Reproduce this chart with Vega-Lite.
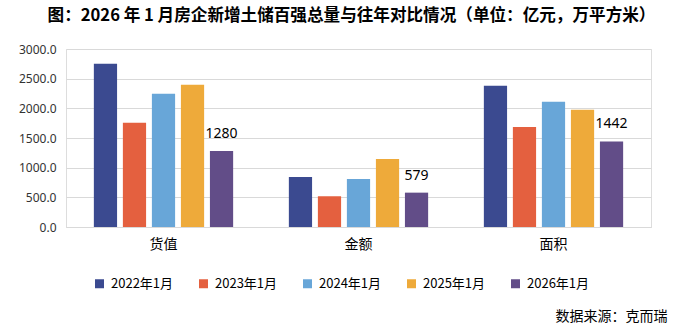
{
  "$schema": "https://vega.github.io/schema/vega-lite/v6.json",
  "width": 585,
  "height": 178,
  "autosize": {"type": "none"},
  "padding": {"left": 66, "top": 49, "right": 25, "bottom": 108},
  "background": "white",
  "title": {
    "text": "图：2026 年 1 月房企新增土储百强总量与往年对比情况（单位：亿元，万平方米）",
    "font": "Noto Sans CJK SC",
    "fontSize": 16.6,
    "fontWeight": "bold",
    "color": "black",
    "anchor": "middle",
    "frame": "group",
    "dx": -7,
    "offset": 18
  },
  "data": {
    "values": [
      {"cat": "货值", "year": "2022年1月", "value": 2753},
      {"cat": "货值", "year": "2023年1月", "value": 1755},
      {"cat": "货值", "year": "2024年1月", "value": 2245},
      {"cat": "货值", "year": "2025年1月", "value": 2397},
      {"cat": "货值", "year": "2026年1月", "value": 1280},
      {"cat": "金额", "year": "2022年1月", "value": 841},
      {"cat": "金额", "year": "2023年1月", "value": 519},
      {"cat": "金额", "year": "2024年1月", "value": 807},
      {"cat": "金额", "year": "2025年1月", "value": 1145},
      {"cat": "金额", "year": "2026年1月", "value": 579},
      {"cat": "面积", "year": "2022年1月", "value": 2381},
      {"cat": "面积", "year": "2023年1月", "value": 1687},
      {"cat": "面积", "year": "2024年1月", "value": 2110},
      {"cat": "面积", "year": "2025年1月", "value": 1975},
      {"cat": "面积", "year": "2026年1月", "value": 1442}
    ]
  },
  "encoding": {
    "x": {
      "field": "cat",
      "type": "nominal",
      "sort": ["货值", "金额", "面积"],
      "scale": {"paddingInner": 0, "paddingOuter": 0},
      "axis": {
        "labelAngle": 0,
        "ticks": false,
        "grid": false,
        "domainColor": "#d9d9d9",
        "labelFont": "Noto Sans CJK SC",
        "labelFontSize": 14,
        "labelColor": "black",
        "labelPadding": 10,
        "title": "数据来源：克而瑞",
        "titleFont": "Noto Sans CJK SC",
        "titleFontSize": 14,
        "titleFontWeight": "normal",
        "titleColor": "black",
        "titleAlign": "right",
        "titleBaseline": "middle",
        "titleX": 601,
        "titleY": 89
      }
    },
    "xOffset": {
      "field": "year",
      "type": "nominal",
      "sort": ["2022年1月", "2023年1月", "2024年1月", "2025年1月", "2026年1月"],
      "scale": {"paddingInner": 0.2, "paddingOuter": 0.96}
    },
    "y": {
      "field": "value",
      "type": "quantitative",
      "scale": {"domain": [0, 3000], "nice": false},
      "axis": {
        "values": [0, 500, 1000, 1500, 2000, 2500, 3000],
        "format": ".1f",
        "domain": false,
        "ticks": false,
        "gridColor": "#d9d9d9",
        "gridWidth": 1,
        "labelFont": "Noto Sans",
        "labelFontSize": 12,
        "labelColor": "#333333",
        "labelPadding": 10,
        "title": null
      }
    }
  },
  "layer": [
    {
      "mark": {"type": "bar"},
      "encoding": {
        "color": {
          "field": "year",
          "type": "nominal",
          "sort": ["2022年1月", "2023年1月", "2024年1月", "2025年1月", "2026年1月"],
          "scale": {"range": ["#3b4a90", "#e4603f", "#68a6d8", "#eeaa3a", "#624d88"]},
          "legend": {
            "orient": "none",
            "legendX": 27,
            "legendY": 228,
            "direction": "horizontal",
            "columns": 5,
            "title": null,
            "symbolType": "square",
            "symbolSize": 81,
            "symbolStrokeWidth": 0,
            "labelFont": "Noto Sans CJK SC",
            "labelFontSize": 13,
            "labelColor": "black",
            "labelOffset": 5,
            "columnPadding": 23,
            "padding": 0
          }
        }
      }
    },
    {
      "transform": [{"filter": "datum.year === '2026年1月'"}],
      "mark": {"type": "text", "baseline": "alphabetic", "dy": -13, "font": "Noto Sans", "fontSize": 14, "color": "black"},
      "encoding": {"text": {"field": "value", "type": "quantitative", "format": "d"}}
    }
  ]
}
